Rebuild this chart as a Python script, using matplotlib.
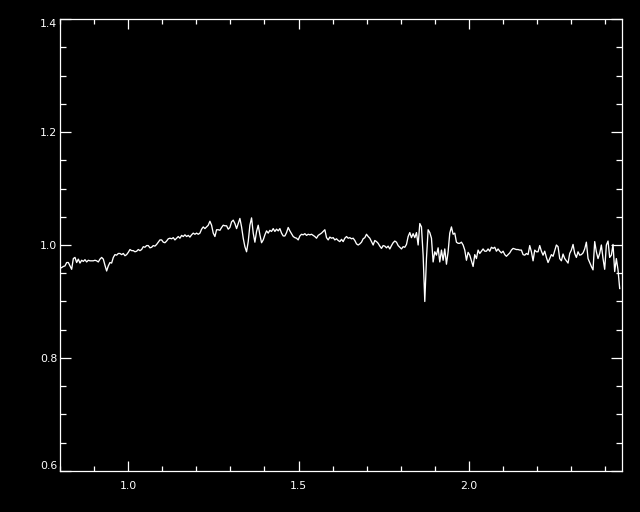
import numpy as np
import matplotlib
matplotlib.use("Agg")
import matplotlib.pyplot as plt
from matplotlib.ticker import MultipleLocator

# Wavelength grid (microns) and normalised flux
flux_seg1 = [0.959, 0.960, 0.962, 0.963, 0.969, 0.969, 0.963, 0.957, 0.976, 0.978,
             0.969, 0.975, 0.968, 0.973, 0.971, 0.974, 0.970, 0.973, 0.972, 0.972,
             0.972, 0.973, 0.972, 0.970, 0.975, 0.978, 0.975, 0.964, 0.954, 0.963,
             0.969, 0.968, 0.978, 0.983, 0.982, 0.985, 0.985, 0.983, 0.985, 0.981,
             0.983, 0.987, 0.992, 0.990, 0.990, 0.988, 0.989, 0.992, 0.990, 0.992,
             0.997, 0.996, 0.999, 0.999, 0.995, 0.996, 0.999, 0.998, 1.001, 1.005,
             1.009, 1.009, 1.005, 1.004, 1.007, 1.011, 1.012, 1.011]
flux_seg2 = [1.013, 1.009, 1.012, 1.015, 1.012, 1.017, 1.015, 1.018, 1.015, 1.017,
             1.014, 1.018, 1.021, 1.019, 1.021, 1.019, 1.021, 1.028, 1.032, 1.029,
             1.032, 1.035, 1.042, 1.035, 1.021, 1.015, 1.027, 1.027, 1.026, 1.031,
             1.035, 1.034, 1.034, 1.028, 1.031, 1.041, 1.044, 1.038, 1.029, 1.038,
             1.047, 1.032, 1.012, 0.997, 0.988, 1.006, 1.035, 1.048, 1.021, 1.005,
             1.024, 1.035, 1.018, 1.004, 1.009, 1.018, 1.025, 1.021, 1.026, 1.024,
             1.029, 1.024, 1.028, 1.025, 1.029, 1.021]
flux_seg3 = [1.016, 1.016, 1.022, 1.031, 1.025, 1.020, 1.015, 1.013, 1.012, 1.009,
             1.016, 1.019, 1.018, 1.020, 1.017, 1.019, 1.018, 1.019, 1.017, 1.015,
             1.012, 1.017, 1.019, 1.021, 1.024, 1.027, 1.013, 1.009, 1.014, 1.012,
             1.013, 1.009, 1.011, 1.008, 1.006, 1.010, 1.006, 1.012, 1.015, 1.012,
             1.013, 1.011, 1.012, 1.008, 1.002, 1.000, 1.002, 1.005, 1.011, 1.013,
             1.019, 1.015, 1.012, 1.006, 1.000, 1.008, 1.006, 1.003, 0.998, 0.994,
             0.999, 0.998, 0.995, 0.998, 0.993, 0.999, 1.004]
flux_seg4 = [1.007, 1.005, 0.999, 0.996, 0.993, 0.997, 0.996, 1.001, 1.015, 1.022,
             1.013, 1.020, 1.013, 1.022, 1.000, 1.038, 1.032, 0.982, 0.900, 0.976,
             1.027, 1.022, 1.012, 0.970, 0.988, 0.982, 0.995, 0.970, 0.991, 0.973,
             0.993, 0.966, 0.988, 1.021, 1.032, 1.019, 1.021, 1.005, 1.003, 1.003,
             1.005, 1.000, 0.991, 0.973, 0.987, 0.982, 0.972, 0.962, 0.983, 0.976,
             0.991, 0.985, 0.989, 0.993, 0.989, 0.989, 0.993, 0.989, 0.996, 0.994,
             0.996, 0.989, 0.993, 0.989, 0.986, 0.989, 0.983]
flux_seg5 = [0.980, 0.983, 0.986, 0.991, 0.994, 0.993, 0.992, 0.992, 0.991, 0.991,
             0.983, 0.982, 0.985, 0.983, 0.999, 0.988, 0.972, 0.991, 0.988, 0.988,
             0.999, 0.989, 0.982, 0.989, 0.978, 0.969, 0.976, 0.983, 0.980, 0.990,
             1.000, 0.997, 0.976, 0.972, 0.984, 0.976, 0.972, 0.968, 0.985, 0.991,
             1.001, 0.985, 0.978, 0.988, 0.982, 0.983, 0.986, 0.993, 1.005, 0.976,
             0.969, 0.962, 0.956, 1.006, 0.988, 0.976, 0.985, 1.000, 0.976, 0.957,
             1.000, 1.007, 0.978, 0.982, 1.001, 0.953, 0.976, 0.956, 0.923]

flux = np.array(flux_seg1 + flux_seg2 + flux_seg3 + flux_seg4 + flux_seg5)
wavelength = np.linspace(0.800, 2.4422, len(flux))

x_ticks = [1.0, 1.5, 2.0]
x_tick_labels = ["1.0", "1.5", "2.0"]
y_ticks = [0.6, 0.8, 1.0, 1.2, 1.4]
y_tick_labels = ["0.6", "0.8", "1.0", "1.2", "1.4"]

fig = plt.figure(figsize=(6.4, 5.12), dpi=100, facecolor="black")
ax = fig.add_axes([60 / 640, 41 / 512, 562 / 640, 452 / 512], facecolor="black")

ax.plot(wavelength, flux, color="white", lw=0.95)

ax.set_xlim(0.8, 2.449)
ax.set_ylim(0.6, 1.4)

ax.set_xticks(x_ticks)
ax.set_xticklabels(x_tick_labels)
ax.set_yticks(y_ticks)
ax.set_yticklabels(y_tick_labels)
ax.xaxis.set_minor_locator(MultipleLocator(0.1))
ax.yaxis.set_minor_locator(MultipleLocator(0.05))

for s in ax.spines.values():
    s.set_color("white")
    s.set_linewidth(0.9)

ax.tick_params(which="both", direction="in", colors="white", top=True, right=True,
               width=0.9, labelsize=7.8)
ax.tick_params(axis="x", which="major", length=7, pad=7)
ax.tick_params(axis="x", which="minor", length=3.8)
ax.tick_params(axis="y", which="major", length=8, pad=2)
ax.tick_params(axis="y", which="minor", length=4.3)

ylabels = ax.get_yticklabels()
ylabels[0].set_va("bottom")
ylabels[-1].set_va("top")

fig.savefig("out.png", dpi=100, facecolor="black")
